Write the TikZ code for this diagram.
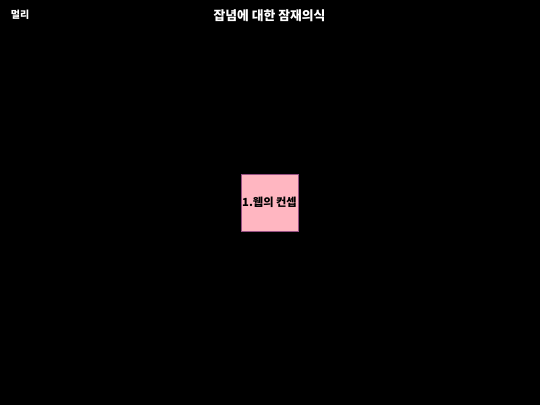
\documentclass[tikz,border=0pt]{standalone}
\usepackage{fontspec}
\newfontfamily\krfont{Noto Sans CJK KR}
\usepackage{tikz}
\usetikzlibrary{backgrounds}
\definecolor{boxpink}{RGB}{255,182,193}
\definecolor{boxline}{RGB}{150,80,130}
\tikzstyle{box}=[draw=boxline, thin, fill=boxpink, minimum width=42.75pt, minimum height=42.75pt, inner sep=0pt, font=\krfont\bfseries\fontsize{8.4}{10}\selectfont]
\tikzstyle{label}=[text=white, inner sep=0pt, font=\krfont\bfseries\fontsize{7.5}{9}\selectfont]

\begin{document}
\begin{tikzpicture}[x=0.75pt, y=-0.75pt]
        \fill[black] (0,0) rectangle (540,405);
        \useasboundingbox (0,0) rectangle (540,405);
        % titles
        \node[label] (far) at (20,14.5) {멀리};
        \node[label, font=\krfont\bfseries\fontsize{9.6}{11}\selectfont] (title) at (269.5,15.5) {잡념에 대한 잠재의식};
        % box
        \node[box] (1) at (269.5,202.5) {1.웹의 컨셉};
\end{tikzpicture}
\end{document}
